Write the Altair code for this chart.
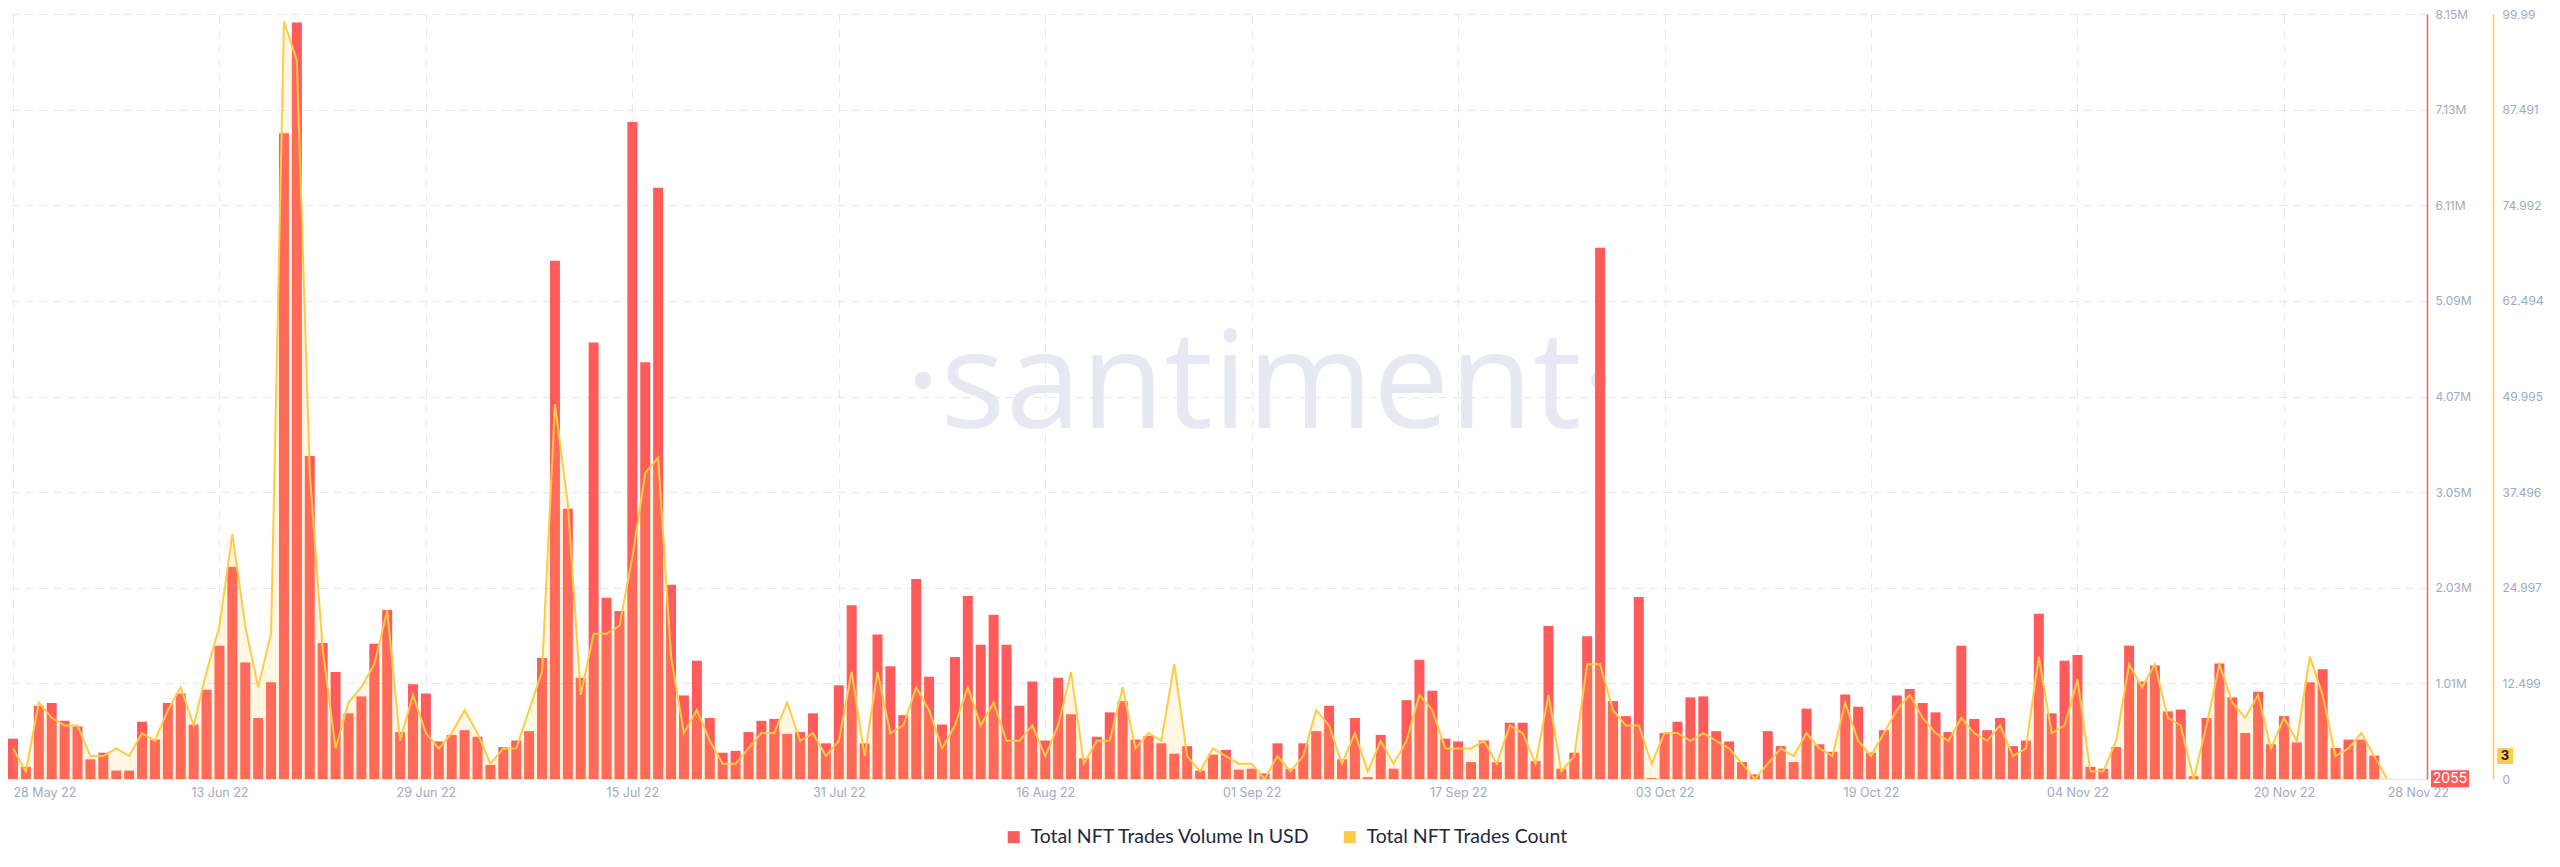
import json
import altair as alt
import pandas as pd

# ---------------- data ----------------
days = list(range(185))  # day 0 = 28 May 22 ... day 184 = 28 Nov 22

volume_musd = [
    0.43, 0.13, 0.78, 0.81, 0.62, 0.56, 0.21, 0.28, 0.09, 0.09,
    0.61, 0.42, 0.81, 0.91, 0.58, 0.95, 1.42, 2.26, 1.24, 0.65,
    1.03, 6.88, 8.06, 3.44, 1.45, 1.14, 0.70, 0.88, 1.44, 1.80,
    0.50, 1.01, 0.91, 0.40, 0.47, 0.52, 0.45, 0.15, 0.34, 0.41,
    0.51, 1.29, 5.52, 2.88, 1.08, 4.65, 1.93, 1.79, 7.00, 4.44,
    6.30, 2.07, 0.89, 1.26, 0.65, 0.28, 0.30, 0.50, 0.62, 0.64,
    0.48, 0.50, 0.70, 0.38, 1.00, 1.85, 0.38, 1.54, 1.20, 0.68,
    2.13, 1.09, 0.58, 1.30, 1.95, 1.43, 1.75, 1.43, 0.78, 1.04,
    0.41, 1.08, 0.69, 0.22, 0.45, 0.71, 0.83, 0.42, 0.46, 0.38,
    0.27, 0.35, 0.09, 0.26, 0.31, 0.10, 0.11, 0.06, 0.38, 0.11,
    0.38, 0.51, 0.78, 0.21, 0.65, 0.02, 0.47, 0.11, 0.84, 1.27,
    0.94, 0.43, 0.40, 0.18, 0.41, 0.18, 0.60, 0.60, 0.19, 1.63,
    0.11, 0.28, 1.52, 5.66, 0.83, 0.67, 1.94, 0.01, 0.49, 0.61,
    0.87, 0.88, 0.51, 0.40, 0.18, 0.05, 0.51, 0.35, 0.18, 0.75,
    0.37, 0.29, 0.90, 0.77, 0.28, 0.52, 0.89, 0.96, 0.81, 0.71,
    0.50, 1.42, 0.64, 0.52, 0.65, 0.35, 0.41, 1.76, 0.70, 1.26,
    1.32, 0.13, 0.11, 0.34, 1.42, 1.04, 1.21, 0.72, 0.74, 0.03,
    0.65, 1.23, 0.87, 0.49, 0.93, 0.37, 0.67, 0.39, 1.03, 1.17,
    0.33, 0.42, 0.42, 0.25, 0.002055,
]

trades_count = [
    4, 1, 10, 8, 7, 7, 3, 3, 4, 3,
    6, 5, 9, 12, 7, 14, 20, 32, 20, 12,
    19, 99, 94, 40, 17, 4, 10, 12, 15, 22,
    5, 11, 6, 4, 6, 9, 6, 2, 4, 4,
    9, 14, 49, 36, 11, 19, 19, 20, 29, 40,
    42, 16, 6, 9, 5, 2, 2, 4, 6, 6,
    10, 5, 6, 3, 5, 14, 3, 14, 6, 7,
    12, 9, 4, 7, 12, 7, 10, 5, 5, 7,
    3, 7, 14, 2, 5, 5, 12, 4, 6, 5,
    15, 3, 1, 4, 3, 2, 2, 0, 3, 1,
    3, 9, 7, 2, 6, 1, 5, 2, 5, 11,
    9, 4, 4, 4, 5, 2, 7, 6, 2, 11,
    1, 3, 15, 15, 9, 7, 7, 2, 6, 6,
    5, 6, 5, 4, 2, 0, 2, 4, 3, 6,
    4, 3, 10, 5, 3, 6, 9, 11, 8, 6,
    5, 8, 6, 5, 7, 3, 4, 16, 6, 7,
    13, 1, 1, 5, 15, 12, 15, 8, 7, 0,
    7, 15, 10, 8, 11, 4, 8, 5, 16, 11,
    3, 4, 6, 3, 0,
]

x_tick_days = [0, 16, 32, 48, 64, 80, 96, 112, 128, 144, 160, 176, 184]
x_tick_labels = ["28 May 22", "13 Jun 22", "29 Jun 22", "15 Jul 22", "31 Jul 22",
                 "16 Aug 22", "01 Sep 22", "17 Sep 22", "03 Oct 22", "19 Oct 22",
                 "04 Nov 22", "20 Nov 22", "28 Nov 22"]
vol_tick_labels = ["", "1.01M", "2.03M", "3.05M", "4.07M", "5.09M", "6.11M", "7.13M", "8.15M"]
count_tick_labels = ["0", "12.499", "24.997", "37.496", "49.995", "62.494", "74.992", "87.491", "99.99"]
series_names = ["Total NFT Trades Volume In USD", "Total NFT Trades Count"]
VOL_MAX = 8150000
COUNT_MAX = 99.99
last_volume = 2055
last_count = 3

assert len(volume_musd) == len(days) == len(trades_count)

RED = "#FF5B5B"
YELLOW = "#FFCB47"
AXIS_TXT = "#A0A9C2"
GRID = "#E4E7EF"
W, H = 2419, 765

df = pd.DataFrame({
    "day": days,
    "volume": [v * 1e6 for v in volume_musd],
    "count": trades_count,
    "series": series_names[0],
})
one = pd.DataFrame({"k": [0]})

x_label_expr = f"{json.dumps(x_tick_labels)}[indexof({json.dumps(x_tick_days)}, datum.value)]"
vol_step = VOL_MAX / 8
cnt_step = COUNT_MAX / 8

x_enc = alt.X(
    "day:Q",
    scale=alt.Scale(domain=[0, 186.7], nice=False, zero=False),
    axis=alt.Axis(
        values=x_tick_days, labelExpr=x_label_expr, title=None,
        grid=True, gridDash=[8, 7], gridColor=GRID,
        gridOpacity={"condition": {"test": "datum.value >= 184", "value": 0}, "value": 1},
        domain=True, domainColor="#E9EBF1", ticks=False,
        labelColor=AXIS_TXT, labelFont="Inter", labelFontSize=12.5, labelPadding=7,
        labelFlush=False,
        labelAlign={"condition": {"test": "datum.value <= 0 || datum.value >= 184", "value": "left"},
                    "value": "center"},
    ),
)

vol_scale = alt.Scale(domain=[0, VOL_MAX], nice=False, zero=True)
cnt_scale = alt.Scale(domain=[0, COUNT_MAX], nice=False, zero=True)

cnt_axis = alt.Axis(
    orient="right", offset=66, values=[cnt_step * i for i in range(9)],
    labelExpr=f"{json.dumps(count_tick_labels)}[round(datum.value / {cnt_step})]",
    title=None, grid=False, domainColor=YELLOW, domainWidth=1.5, ticks=False,
    labelColor=AXIS_TXT, labelFont="Inter", labelFontSize=12, labelPadding=9,
)

base = alt.Chart(df)

bars = base.mark_bar(size=10, clip=True).encode(
    x=x_enc,
    y=alt.Y("volume:Q", scale=vol_scale, axis=alt.Axis(
        orient="right", values=[vol_step * i for i in range(1, 9)],
        labelExpr=f"{json.dumps(vol_tick_labels)}[round(datum.value / {vol_step})]",
        title=None, grid=True, gridDash=[8, 6], gridColor=GRID,
        domainColor=RED, domainWidth=1.5, ticks=False,
        labelColor=AXIS_TXT, labelFont="Inter", labelFontSize=12, labelPadding=8,
    )),
    color=alt.Color("series:N", scale=alt.Scale(domain=series_names, range=[RED, YELLOW]),
                    legend=alt.Legend(
                        title=None, orient="none", legendX=996, legendY=813,
                        direction="horizontal", symbolType="square", symbolSize=144,
                        symbolStrokeWidth=0, symbolOpacity=1,
                        labelFont="Lato", labelFontSize=19.5, labelColor="#1F2640",
                        labelOffset=7, columnPadding=29, labelLimit=0,
                    )),
)

vol_box = alt.Chart(one).mark_point(
    shape="M-1,-0.45H1V0.45H-1Z", size=38 * 38, filled=True, color=RED, opacity=1
).encode(x=alt.value(W + 23), y=alt.datum(last_volume, scale=vol_scale))
vol_txt = alt.Chart(one).mark_text(
    color="white", font="Inter", fontSize=14, baseline="middle", align="center"
).encode(x=alt.value(W + 23), y=alt.datum(last_volume), text=alt.value(str(last_volume)))

vol_layer = alt.layer(bars, vol_box, vol_txt)

area = base.mark_area(color=YELLOW, opacity=0.15, clip=True).encode(
    x=x_enc, y=alt.Y("count:Q", scale=cnt_scale, axis=cnt_axis))
line = base.mark_line(color=YELLOW, strokeWidth=2, clip=True).encode(
    x=x_enc, y=alt.Y("count:Q", scale=cnt_scale, axis=cnt_axis))
cnt_box = alt.Chart(one).mark_point(
    shape="square", size=16 * 16, filled=True, color=YELLOW, opacity=1
).encode(x=alt.value(W + 78), y=alt.datum(last_count, scale=cnt_scale))
cnt_txt = alt.Chart(one).mark_text(
    color="#1C1C2B", font="Inter", fontSize=13, fontWeight="bold", baseline="middle", align="center"
).encode(x=alt.value(W + 78), y=alt.datum(last_count), text=alt.value(str(last_count)))

cnt_layer = alt.layer(area, line, cnt_box, cnt_txt)

watermark = alt.Chart(one).mark_text(
    text="·santiment·", font="Open Sans", fontSize=136,
    color="#E6E9F2", align="center", baseline="alphabetic"
).encode(x=alt.value(1253), y=alt.value(414))

chart = alt.layer(watermark, vol_layer, cnt_layer).resolve_scale(
    y="independent"
).properties(
    width=W, height=H, padding=0, background="white"
).configure_view(stroke=None)

chart.save("out.html", embed_options={"renderer": "svg", "actions": False})
